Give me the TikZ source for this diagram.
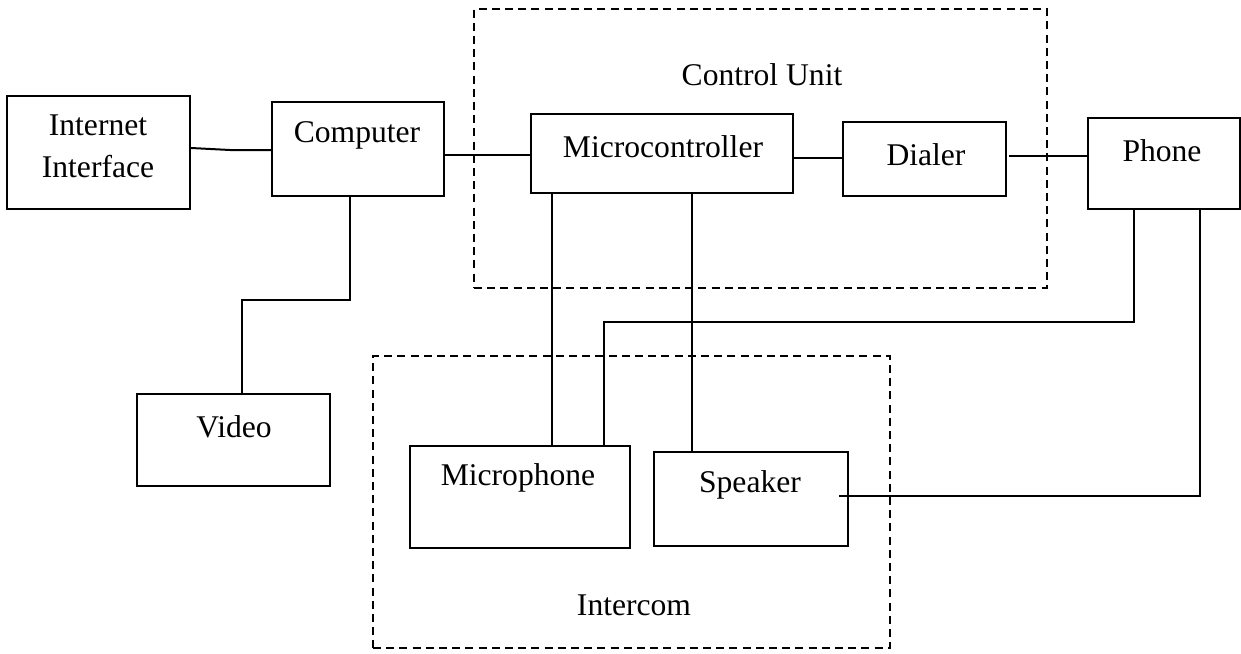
\documentclass[tikz,border=0pt]{standalone}
\usepackage{fontspec}
\setmainfont{Liberation Serif}
\usetikzlibrary{fit}
\begin{document}
\begin{tikzpicture}[x=0.5pt,y=-0.5pt,
  box/.style={draw, line width=1.1pt, inner sep=0pt},
  txt/.style={font=\fontsize{15.8}{19}\selectfont, inner sep=0pt, anchor=center},
  wire/.style={line width=1pt},
  group/.style={draw, dash pattern=on 4pt off 2.6pt, line width=0.9pt, inner sep=0pt}]
\useasboundingbox (0,0) rectangle (1241,653);
% groups
\node[group, fit={(474,9)(1047,288)}] (cu) {};
\node[group, fit={(373,356)(890,648)}] (ic) {};
\node[txt] (cutxt) at (762,75) {Control Unit};
\node[txt] (ictxt) at (634,605) {Intercom};
% boxes
\node[box, fit={(7,96)(190,209)}] (inet) {};
\node[box, fit={(272,102)(444,196)}] (comp) {};
\node[box, fit={(531,114)(793,193)}] (micro) {};
\node[box, fit={(843,122)(1006,196)}] (dialer) {};
\node[box, fit={(1088,118)(1240,209)}] (phone) {};
\node[box, fit={(137,394)(330,486)}] (video) {};
\node[box, fit={(410,446)(630,548)}] (mic) {};
\node[box, fit={(654,452)(848,546)}] (spk) {};
% texts
\node[txt] (t1) at (98,125) {Internet};
\node[txt] (t2) at (98,167) {Interface};
\node[txt] (t3) at (357,135) {Computer};
\node[txt] (t4) at (663,147) {Microcontroller};
\node[txt] (t5) at (926,155) {Dialer};
\node[txt] (t6) at (1162,151) {Phone};
\node[txt] (t7) at (234,427) {Video};
\node[txt] (t8) at (518,478) {Microphone};
\node[txt] (t9) at (750,485) {Speaker};
% coordinates
\coordinate (k0) at (191,148);
\coordinate (k1) at (230,150);
\coordinate (h1) at (447,155);
\coordinate (h2) at (800,158);
\coordinate (h3) at (1009,156);
\coordinate (v1) at (350,300);
\coordinate (v2) at (242,300);
\coordinate (m1) at (552,0);
\coordinate (m2) at (692,0);
\coordinate (p1) at (1134,322);
\coordinate (p2) at (604,322);
\coordinate (p3) at (1200,496);
\coordinate (p4) at (839,496);
% wires
\draw[wire] (inet.east |- k0) -- (k1) -- (comp.west |- k1);
\draw[wire] (comp.east |- h1) -- (micro.west |- h1);
\draw[wire] (micro.east |- h2) -- (dialer.west |- h2);
\draw[wire] (h3) -- (phone.west |- h3);
\draw[wire] (comp.south -| v1) -- (v1) -- (v2) -- (video.north -| v2);
\draw[wire] (micro.south -| m1) -- (mic.north -| m1);
\draw[wire] (micro.south -| m2) -- (spk.north -| m2);
\draw[wire] (phone.south -| p1) -- (p1) -- (p2) -- (mic.north -| p2);
\draw[wire] (phone.south -| p3) -- (p3) -- (p4);
\end{tikzpicture}
\end{document}
